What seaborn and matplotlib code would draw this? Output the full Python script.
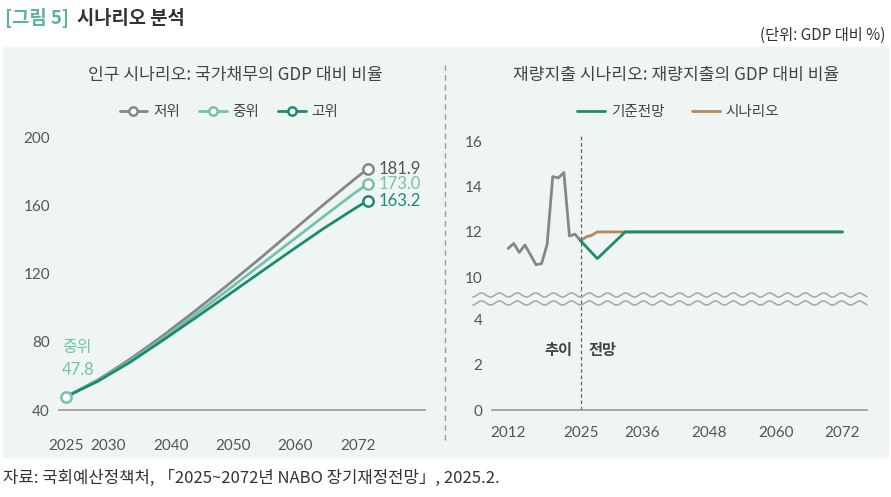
import numpy as np
import pandas as pd
import seaborn as sns
import matplotlib.pyplot as plt
from matplotlib.lines import Line2D
from matplotlib.patches import Rectangle

# 1 - 데이터
# 인구 시나리오: 국가채무의 GDP 대비 비율
pop_years = [2025, 2030, 2035, 2040, 2045, 2050, 2055, 2060, 2065, 2070, 2072]
debt_low = [47.8, 57.8, 70.0, 83.5, 98.0, 113.0, 128.5, 144.5, 160.5, 176.0, 181.9]
debt_mid = [47.8, 57.4, 69.0, 82.0, 95.8, 110.0, 124.5, 139.0, 153.5, 167.8, 173.0]
debt_high = [47.8, 57.0, 68.2, 80.8, 93.8, 107.0, 120.3, 133.5, 146.5, 158.6, 163.2]
pop_names = ['저위', '중위', '고위']
pop_xticks = ['2025', '2030', '2040', '2050', '2060', '2072']

# 재량지출 시나리오: 재량지출의 GDP 대비 비율
hist_years = list(range(2012, 2026))
hist_vals = [11.27, 11.49, 11.09, 11.42, 10.99, 10.55, 10.60, 11.46, 14.45, 14.39, 14.63, 11.82, 11.90, 11.61]
base_years = [2025, 2028, 2033, 2072]
base_vals = [11.61, 10.82, 12.0, 12.0]
scen_years = [2025, 2026, 2027, 2028, 2072]
scen_vals = [11.61, 11.78, 11.85, 12.0, 12.0]
spend_names = ['기준전망', '시나리오']
spend_xticks = [2012, 2025, 2036, 2048, 2060, 2072]

# 2 - 스타일
sns.set_theme(style="white")
plt.rcParams['font.family'] = ['Noto Sans CJK KR', 'DejaVu Sans']
NUM = ['Lato', 'DejaVu Sans']

c_low, c_mid, c_high = '#878787', '#74c2ae', '#1d8a74'
c_brown = '#b38a55'
c_teal_title = '#5cb3a3'
bg = '#eff5f3'
txt = '#444444'

W, H = 891, 497
fig = plt.figure(figsize=(W / 100, H / 100), dpi=100)


def fx(px):
    return px / W


def fy(py):
    return 1 - py / H


# 배경
fig.add_artist(Rectangle((fx(3), fy(457)), fx(888) - fx(3), fy(47) - fy(457),
                         transform=fig.transFigure, color=bg, zorder=0))

# 제목 / 단위 / 출처
fig.text(fx(5), fy(18), '[그림 5]', color=c_teal_title, fontsize=13.5, fontweight='bold', va='center')
fig.text(fx(77), fy(18), '시나리오 분석', color='#333333', fontsize=13.5, fontweight='bold', va='center')
fig.text(fx(885), fy(35), '(단위: GDP 대비 %)', color='#333333', fontsize=11, ha='right', va='center')
fig.text(fx(3), fy(478), '자료: 국회예산정책처, 「2025~2072년 NABO 장기재정전망」, 2025.2.',
         color='#333333', fontsize=12, va='center')

# 가운데 구분선
fig.add_artist(Line2D([fx(445), fx(445)], [fy(65), fy(440)], transform=fig.transFigure,
                      color='#9a9a9a', lw=1, ls=(0, (4, 3))))

# 3 - 왼쪽: 인구 시나리오
ax1 = fig.add_axes([fx(59), fy(410), (425 - 59) / W, (410 - 130) / H])
ax1.patch.set_alpha(0)
pop_df = pd.DataFrame({
    '연도': pop_years * 3,
    '비율': debt_low + debt_mid + debt_high,
    '시나리오': [n for n in pop_names for _ in pop_years],
})
pop_colors = dict(zip(pop_names, [c_low, c_mid, c_high]))
sns.lineplot(data=pop_df, x='연도', y='비율', hue='시나리오', hue_order=pop_names,
             palette=pop_colors, lw=2, ax=ax1, legend=False)

end_df = pop_df[pop_df['연도'] == pop_years[-1]]
for _, r in end_df.iterrows():
    ax1.scatter(r['연도'], r['비율'], s=55, facecolor='white', edgecolor=pop_colors[r['시나리오']],
                linewidth=1.8, zorder=5)
    ax1.text(r['연도'] + 1.6, r['비율'], f"{r['비율']:.1f}", color='#555555' if r['시나리오'] == '저위'
             else pop_colors[r['시나리오']], fontsize=12, va='center', family=NUM)
ax1.scatter(pop_years[0], debt_mid[0], s=55, facecolor='white', edgecolor=c_mid, linewidth=1.8, zorder=5)
ax1.text(pop_years[0] - 0.6, 76.5, '중위', color=c_mid, fontsize=11.5, va='center')
ax1.text(pop_years[0] - 0.6, 63.5, f'{debt_mid[0]:.1f}', color=c_mid, fontsize=12, va='center', family=NUM)

ax1.set_xlim(2023.9, 2080.9)
ax1.set_ylim(40, 204.7)
ax1.set_yticks([40, 80, 120, 160, 200])
ax1.set_xticks([2025, 2031.5, 2041.3, 2051, 2060.6, 2070.4])
ax1.set_xticklabels(pop_xticks)
ax1.set_xlabel('')
ax1.set_ylabel('')
sns.despine(ax=ax1, left=True)
ax1.spines['bottom'].set_color('#999999')
ax1.spines['bottom'].set_linewidth(1.2)
ax1.tick_params(axis='x', length=0, pad=21, labelsize=11, labelcolor='#555555')
ax1.tick_params(axis='y', length=0, pad=6.5, labelsize=11, labelcolor='#555555')
for lab in ax1.get_xticklabels() + ax1.get_yticklabels():
    lab.set_family(NUM)

fig.text(fx(235), fy(75), '인구 시나리오: 국가채무의 GDP 대비 비율', color=txt, fontsize=12.3,
         ha='center', va='center')
pop_handles = [Line2D([0], [0], color=c, lw=2, marker='o', markersize=6, markerfacecolor='white',
                      markeredgewidth=1.8) for c in [c_low, c_mid, c_high]]
fig.legend(pop_handles, pop_names, loc='center', bbox_to_anchor=(fx(229), fy(112)), ncol=3,
           frameon=False, handlelength=1.9, columnspacing=1.3, handletextpad=0.4,
           prop={'size': 10.5}, labelcolor=txt)

# 4 - 오른쪽: 재량지출 시나리오 (축 끊김)
ax2t = fig.add_axes([fx(492), fy(290), (867 - 492) / W, (290 - 135) / H])
ax2b = fig.add_axes([fx(492), fy(410), (867 - 492) / W, (410 - 308) / H], sharex=ax2t)
for ax in (ax2t, ax2b):
    ax.patch.set_alpha(0)
    sns.lineplot(x=hist_years, y=hist_vals, color=c_low, lw=2, ax=ax)
    sns.lineplot(x=scen_years, y=scen_vals, color=c_brown, lw=2, ax=ax)
    sns.lineplot(x=base_years, y=base_vals, color=c_high, lw=2, ax=ax)
    ax.tick_params(axis='y', length=0, pad=7, labelsize=11, labelcolor='#555555')

ax2t.axvline(2025, color='#666666', lw=0.9, ls=(0, (3, 2)))
ax2b.axvline(2025, ymin=0, ymax=(410 - 290) / (410 - 308), color='#666666', lw=0.9,
             ls=(0, (3, 2)), clip_on=False)

ax2t.set_xlim(2009.1, 2076.4)
ax2t.set_ylim(9.43, 16.29)
ax2t.set_yticks([10, 12, 14, 16])
ax2b.set_ylim(0, 4.53)
ax2b.set_yticks([0, 2, 4])
ax2b.set_xticks(spend_xticks)
ax2t.tick_params(axis='x', length=0, labelbottom=False)
ax2b.tick_params(axis='x', length=0, pad=11.5, labelsize=11, labelcolor='#555555')
sns.despine(ax=ax2t, left=True, bottom=True)
sns.despine(ax=ax2b, left=True)
ax2b.spines['bottom'].set_color('#999999')
ax2b.spines['bottom'].set_linewidth(1.2)
for ax in (ax2t, ax2b):
    ax.set_xlabel('')
    ax.set_ylabel('')
    for lab in ax.get_xticklabels() + ax.get_yticklabels():
        lab.set_family(NUM)

ax2b.text(2023.6, 2.67, '추이', color=txt, fontsize=11, fontweight='bold', ha='right', va='center')
ax2b.text(2026.4, 2.67, '전망', color=txt, fontsize=11, fontweight='bold', ha='left', va='center')

# 축 끊김 물결선
wx = np.linspace(473, 867, 400)
for yc in (295, 303):
    fig.add_artist(Line2D(fx(wx), fy(yc + 2 * np.sin(2 * np.pi * wx / 18)), transform=fig.transFigure,
                          color='#aaaaaa', lw=1.2))

fig.text(fx(676), fy(75), '재량지출 시나리오: 재량지출의 GDP 대비 비율', color=txt, fontsize=12.3,
         ha='center', va='center')
spend_handles = [Line2D([0], [0], color=c, lw=2) for c in [c_high, c_brown]]
fig.legend(spend_handles, spend_names, loc='center', bbox_to_anchor=(fx(678), fy(112)), ncol=2,
           frameon=False, handlelength=1.9, columnspacing=1.9, handletextpad=0.4,
           prop={'size': 10.5}, labelcolor=txt)

fig.savefig('out.png', dpi=100)
